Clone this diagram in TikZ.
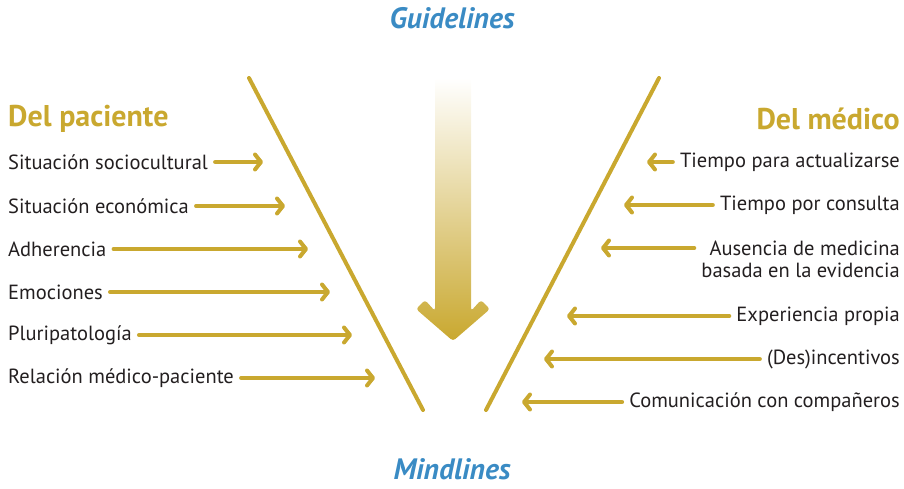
\documentclass[tikz,border=0pt]{standalone}
\usepackage{fontspec}
\setmainfont{PT Sans}
\usetikzlibrary{arrows.meta}
\definecolor{gold}{HTML}{C9A82F}
\definecolor{guideblue}{HTML}{3A8BC4}
\definecolor{ink}{HTML}{231F20}

\begin{document}
\begin{tikzpicture}[x=1pt,y=-1pt,>={Straight Barb[length=6pt,width=15pt,round]},
  item/.style={font=\fontsize{20.5}{22}\selectfont,text=ink,inner sep=0pt},
  head/.style={font=\fontsize{30}{32}\selectfont\bfseries,text=gold,inner sep=0pt},
  title/.style={font=\fontsize{29.5}{32}\selectfont\bfseries\itshape,text=guideblue,inner sep=0pt},
  bar/.style={line width=4pt,draw=gold,line cap=round},
  ptr/.style={line width=4pt,draw=gold,line cap=round,->,shorten <=7pt}]
\useasboundingbox (0,0) rectangle (904,488);

% titles
\node[title,anchor=base] (gl) at (452,28) {Guidelines};
\node[title,anchor=base] (ml) at (452,479) {Mindlines};

% the two sides of the funnel
\coordinate (a1) at (249,78);
\coordinate (a2) at (423,410);
\coordinate (b1) at (659,78);
\coordinate (b2) at (486,410);
\draw[bar] (a1) -- (a2);
\draw[bar] (b1) -- (b2);

% central arrow
\shade[top color=white,bottom color=gold,rounded corners=3pt]
  (435,78) -- (471,78) -- (471,311) -- (481,300) -- (490,309) -- (453,341)
  -- (416,309) -- (425,300) -- (435,311) -- cycle;

% left side
\node[head,anchor=west] (hp) at (8,119) {Del paciente};
\node[item,anchor=west] (l1) at (8,162) {Situación sociocultural};
\node[item,anchor=west] (l2) at (8,206) {Situación económica};
\node[item,anchor=west] (l3) at (8,249) {Adherencia};
\node[item,anchor=west] (l4) at (8,292) {Emociones};
\node[item,anchor=west] (l5) at (8,335) {Pluripatología};
\node[item,anchor=west] (l6) at (8,378) {Relación médico-paciente};
\coordinate (t1) at (263,162);
\coordinate (t2) at (285,206);
\coordinate (t3) at (308,249);
\coordinate (t4) at (330,292);
\coordinate (t5) at (352,335);
\coordinate (t6) at (375,378);
\foreach \i in {1,...,6}
  \draw[ptr] (l\i.east) -- (t\i);

% right side
\node[head,anchor=east] (hm) at (900,119) {Del médico};
\node[item,anchor=east] (r1) at (900,162) {Tiempo para actualizarse};
\node[item,anchor=east] (r2) at (900,205) {Tiempo por consulta};
\node[item,anchor=east,align=right] (r3) at (900,259) {Ausencia de medicina\\basada en la evidencia};
\node[item,anchor=east] (r4) at (900,316) {Experiencia propia};
\node[item,anchor=east] (r5) at (900,359) {(Des)incentivos};
\node[item,anchor=east] (r6) at (900,402) {Comunicación con compañeros};
\coordinate (u1) at (647,162);
\coordinate (u2) at (624,205);
\coordinate (u3) at (601,248);
\coordinate (u4) at (567,316);
\coordinate (u5) at (544,359);
\coordinate (u6) at (522,402);
\foreach \i in {1,2,4,5,6}
  \draw[ptr] (r\i.west) -- (u\i);
\draw[ptr] (r3.west |- u3) -- (u3);
\end{tikzpicture}
\end{document}
